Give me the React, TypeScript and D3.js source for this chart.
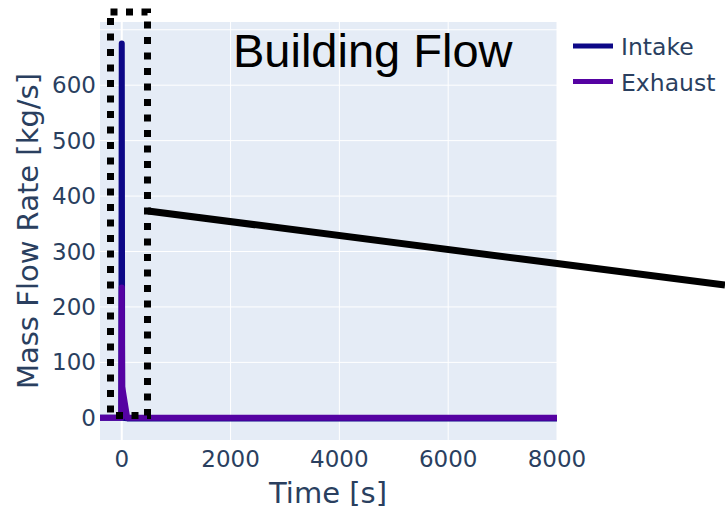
import React from "react";
import * as d3 from "d3";

const timeS = [-400, -8, 0, 8, 100, 8000];
const intakeFlow = [0, 0, 675, 0, -1, -1];
const exhaustFlow = [0, 0, 235, 56, 0, 0];
const xTicks = [0, 2000, 4000, 6000, 8000];
const yTicks = [0, 100, 200, 300, 400, 500, 600, 700];
const yTickLabels = ["0", "100", "200", "300", "400", "500", "600", ""];
const seriesNames = ["Intake", "Exhaust"];
const seriesColors = ["#0d0887", "#5502a2"];
const titleText = "Building Flow";

const W = 725;
const H = 513;
const plot = { left: 100, right: 557, top: 22, bottom: 440 };
const font = "'DejaVu Sans', Verdana, sans-serif";
const ink = "#2a3f5f";

export default function App() {
  const x = d3.scaleLinear().domain([-400, 8000]).range([plot.left, plot.right]);
  const y = d3.scaleLinear().domain([-40, 714]).range([plot.bottom, plot.top]);
  const line = d3
    .line<[number, number]>()
    .x((d) => x(d[0]))
    .y((d) => y(d[1]));
  const series = [intakeFlow, exhaustFlow].map((vals) =>
    timeS.map((t, i) => [t, vals[i]] as [number, number])
  );

  return (
    <svg
      width={W}
      height={H}
      style={{ position: "absolute", left: 0, top: 0, background: "#fff" }}
    >
      <rect
        x={plot.left}
        y={plot.top}
        width={plot.right - plot.left}
        height={plot.bottom - plot.top}
        fill="#e5ecf6"
      />
      {xTicks.map((t) => (
        <line
          key={"gx" + t}
          x1={x(t)}
          x2={x(t)}
          y1={plot.top}
          y2={plot.bottom}
          stroke="#fff"
          strokeWidth={t === 0 ? 2 : 1}
        />
      ))}
      {yTicks.map((t) => (
        <line
          key={"gy" + t}
          x1={plot.left}
          x2={plot.right}
          y1={y(t)}
          y2={y(t)}
          stroke="#fff"
          strokeWidth={t === 0 ? 2 : 1}
        />
      ))}
      <text x={233} y={67} fontFamily="'Liberation Sans', Arial, sans-serif" fontSize={47} fill="#000">
        {titleText}
      </text>
      {series.map((s, i) => (
        <path
          key={seriesNames[i]}
          d={line(s) || ""}
          fill="none"
          stroke={seriesColors[i]}
          strokeWidth={6}
          strokeLinejoin="round"
        />
      ))}
      {xTicks.map((t) => (
        <text
          key={"xl" + t}
          x={x(t)}
          y={467}
          textAnchor="middle"
          fontFamily={font}
          fontSize={23}
          fill={ink}
        >
          {t}
        </text>
      ))}
      {yTicks.map((t, i) => (
        <text
          key={"yl" + t}
          x={96}
          y={y(t) + 8}
          textAnchor="end"
          fontFamily={font}
          fontSize={23}
          fill={ink}
        >
          {yTickLabels[i]}
        </text>
      ))}
      <text x={328} y={503} textAnchor="middle" fontFamily={font} fontSize={29} fill={ink}>
        Time [s]
      </text>
      <text
        transform={`translate(38,231) rotate(-90)`}
        textAnchor="middle"
        fontFamily={font}
        fontSize={29}
        fill={ink}
      >
        Mass Flow Rate [kg/s]
      </text>
      {seriesNames.map((n, i) => (
        <g key={"lg" + n} transform={`translate(573,${46 + i * 35.5})`}>
          <line x1={0} x2={40} y1={0} y2={0} stroke={seriesColors[i]} strokeWidth={5} />
          <text x={48} y={9} fontFamily={font} fontSize={23.5} fill={ink}>
            {n}
          </text>
        </g>
      ))}
      <rect
        x={110.5}
        y={12}
        width={37}
        height={403.5}
        fill="none"
        stroke="#000"
        strokeWidth={7}
        strokeDasharray="7 8.5"
      />
      <line x1={148} y1={211} x2={725} y2={285} stroke="#000" strokeWidth={7} />
    </svg>
  );
}
